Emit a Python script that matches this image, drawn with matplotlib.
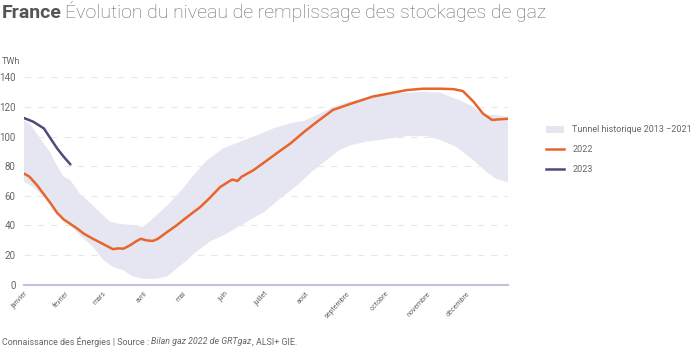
import numpy as np
import matplotlib
matplotlib.use("Agg")
import matplotlib.pyplot as plt
from matplotlib.patches import Patch
from matplotlib.lines import Line2D

plt.rcParams['font.family'] = ['Roboto', 'DejaVu Sans']

# ---- data (day of year, TWh) ----
upper_days = [0, 4, 12, 20, 25, 30, 35, 42, 50, 57, 65, 72, 80, 90, 97, 108, 118, 128, 138, 150,
              163, 176, 188, 201, 211, 223, 236, 245, 251, 263, 276, 289, 301, 314, 324, 331, 339,
              346, 355, 365]
upper_vals = [111, 109, 99, 89, 80, 73, 70.5, 61.5, 55, 49, 42.5, 41, 40.5, 39, 44.5, 53.5, 63, 74,
              84, 92, 96.5, 101, 105.5, 109, 110.5, 115.5, 121, 123.5, 124.7, 126.9, 128.7, 129.6,
              130.3, 129.6, 126, 123.5, 120, 114.5, 114.5, 113.5]
lower_days = [0, 7, 15, 22, 30, 37, 45, 52, 60, 67, 75, 82, 90, 100, 108, 115, 123, 128, 140, 153,
              168, 181, 193, 206, 218, 231, 238, 246, 258, 276, 289, 304, 314, 326, 339, 349, 356, 365]
lower_vals = [69.5, 66, 59.5, 52.5, 44.5, 38, 31, 25.5, 16.5, 12, 9.7, 5.6, 4, 4, 5.6, 10.8, 16.5,
              21, 29, 34.5, 42.5, 49, 58, 67, 77, 86, 91, 94, 96.5, 98.7, 100.3, 100.3, 97.6, 93, 84,
              76, 71.5, 69]
y2022_days = [0, 4, 10, 15, 20, 25, 30, 35, 40, 45, 52, 60, 67, 71, 75, 80, 84, 88, 92, 97, 101, 108,
              115, 122, 133, 140, 148, 157, 161, 164, 173, 180, 191, 201, 211, 221, 233, 238, 245, 251,
              263, 276, 289, 301, 314, 324, 331, 339, 346, 353, 358, 365]
y2022_vals = [75, 73, 67, 61, 55, 48.5, 44, 41, 38, 34.5, 31, 27.3, 24, 24.5, 24.3, 26.6, 29, 31, 30,
              29.5, 31, 35.6, 40, 45, 52.5, 58.5, 66, 71, 70, 72.8, 77.3, 81.8, 89, 95.4, 103, 110,
              118, 119.5, 121.7, 123.5, 127, 129.2, 131.4, 132.3, 132.3, 132, 130.7, 123.5, 115.6,
              111.2, 111.6, 112]
y2023_days = [0, 7, 15, 20, 25, 30, 35]
y2023_vals = [112.5, 110, 105.5, 98.7, 92, 86.3, 81.2]

month_days = [0, 31, 59, 90, 120, 151, 181, 212, 243, 273, 304, 334]
month_labels = ['janvier', 'février', 'mars', 'avril', 'mai', 'juin', 'juillet', 'août',
                'septembre', 'octobre', 'novembre', 'décembre']
y_ticks = [0, 20, 40, 60, 80, 100, 120, 140]

C_BAND = '#e6e6f3'
C_2022 = '#e8652a'
C_2023 = '#4d4b7c'
C_TXT = '#666666'

fig = plt.figure(figsize=(7.0, 3.48), dpi=100)
ax = fig.add_axes([24/700, 1-284.7/348, (508-24)/700, (284.7-77.3)/348])

band_x = np.concatenate([upper_days, lower_days[::-1]])
band_y = np.concatenate([upper_vals, lower_vals[::-1]])
ax.fill(band_x, band_y, color=C_BAND, lw=0, zorder=1)
ax.plot(y2022_days, y2022_vals, color=C_2022, lw=1.8, zorder=3, solid_capstyle='round')
ax.plot(y2023_days, y2023_vals, color=C_2023, lw=1.8, zorder=3, solid_capstyle='round')

ax.set_xlim(0, 365)
ax.set_ylim(0, 140)
for s in ['top', 'right', 'left']:
    ax.spines[s].set_visible(False)
ax.spines['bottom'].set_color('#c5c1e3')
ax.spines['bottom'].set_linewidth(1.5)
ax.set_yticks(y_ticks)
ax.set_yticklabels([str(v) for v in y_ticks], fontsize=7, color=C_TXT)
ax.tick_params(axis='y', length=0, pad=6)
for v in y_ticks[1:]:
    ax.axhline(v, color='#e8e8e8', lw=0.8, ls=(0, (6, 6)), zorder=0)
ax.set_xticks(month_days)
ax.set_xticklabels(month_labels, fontsize=5, color=C_TXT, rotation=47,
                   ha='right', va='top', rotation_mode='anchor')
ax.tick_params(axis='x', length=0, pad=4)

fig.text(2/700, 1-62/348, 'TWh', fontsize=6.5, color=C_TXT, va='center', ha='left')

# title
ty = 1-18.5/348
t1 = fig.text(1.5/700, ty, 'France', fontsize=14, fontweight='bold', color='#555555',
              va='baseline', ha='left')
fig.canvas.draw()
r = fig.canvas.get_renderer()
bb = t1.get_window_extent(r)
fig.text((bb.x1 + 4)/700, ty, 'Évolution du niveau de remplissage des stockages de gaz',
         fontsize=14, fontweight='light', color='#666666', va='baseline', ha='left')

# legend
handles = [Patch(facecolor=C_BAND, edgecolor='none'),
           Line2D([], [], color=C_2022, lw=1.8),
           Line2D([], [], color=C_2023, lw=1.8)]
labels = ['Tunnel historique 2013 \u22122021', '2022', '2023']
leg = fig.legend(handles, labels, loc='upper left', bbox_to_anchor=(546/700, 1-125.5/348),
                 frameon=False, fontsize=6.5, handlelength=2.0, handleheight=0.8,
                 labelspacing=1.2, handletextpad=0.9, borderaxespad=0, borderpad=0)
for t in leg.get_texts():
    t.set_color(C_TXT)

# footer
fy = 1-342/348
fs = 6.4
f1 = fig.text(2/700, fy, 'Connaissance des Énergies | Source : ', fontsize=fs, color=C_TXT,
              va='center', ha='left')
fig.canvas.draw()
x = f1.get_window_extent(r).x1
f2 = fig.text(x/700, fy, 'Bilan gaz 2022 de GRTgaz', fontsize=fs, color=C_TXT, style='italic',
              va='center', ha='left')
fig.canvas.draw()
x = f2.get_window_extent(r).x1
fig.text(x/700, fy, ', ALSI+ GIE.', fontsize=fs, color=C_TXT, va='center', ha='left')

fig.savefig('out.png', dpi=100)
